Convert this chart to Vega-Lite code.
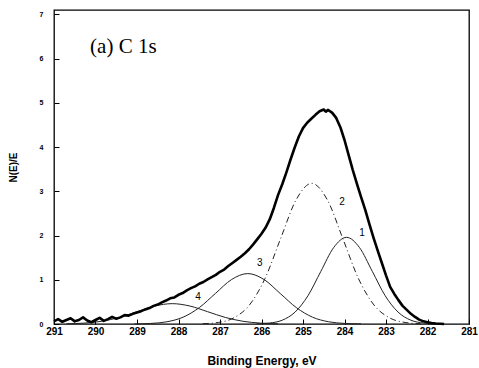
{
  "$schema": "https://vega.github.io/schema/vega-lite/v6.json",
  "width": 415,
  "height": 314,
  "autosize": {"type": "none"},
  "padding": {"left": 54, "top": 10, "right": 10, "bottom": 44},
  "background": "white",
  "config": {
    "view": {"stroke": "black", "strokeWidth": 1.3},
    "axis": {"grid": false, "domain": false, "tickColor": "black", "labelColor": "black", "titleColor": "black"}
  },
  "datasets": {
    "envelope": [
      {"energy": 291.0, "intensity": 0.06}, {"energy": 290.9, "intensity": 0.11}, {"energy": 290.8, "intensity": 0.05},
      {"energy": 290.7, "intensity": 0.09}, {"energy": 290.6, "intensity": 0.13}, {"energy": 290.5, "intensity": 0.06},
      {"energy": 290.4, "intensity": 0.09}, {"energy": 290.3, "intensity": 0.15}, {"energy": 290.2, "intensity": 0.08},
      {"energy": 290.1, "intensity": 0.04}, {"energy": 290.0, "intensity": 0.09}, {"energy": 289.9, "intensity": 0.14},
      {"energy": 289.8, "intensity": 0.07}, {"energy": 289.7, "intensity": 0.11}, {"energy": 289.6, "intensity": 0.16},
      {"energy": 289.5, "intensity": 0.12}, {"energy": 289.4, "intensity": 0.15}, {"energy": 289.3, "intensity": 0.20},
      {"energy": 289.2, "intensity": 0.19}, {"energy": 289.1, "intensity": 0.23}, {"energy": 289.0, "intensity": 0.26},
      {"energy": 288.9, "intensity": 0.29}, {"energy": 288.8, "intensity": 0.33}, {"energy": 288.7, "intensity": 0.36},
      {"energy": 288.6, "intensity": 0.41}, {"energy": 288.5, "intensity": 0.44}, {"energy": 288.4, "intensity": 0.49},
      {"energy": 288.3, "intensity": 0.53}, {"energy": 288.2, "intensity": 0.58}, {"energy": 288.1, "intensity": 0.60},
      {"energy": 288.0, "intensity": 0.66}, {"energy": 287.9, "intensity": 0.70}, {"energy": 287.8, "intensity": 0.76},
      {"energy": 287.7, "intensity": 0.81}, {"energy": 287.6, "intensity": 0.85}, {"energy": 287.5, "intensity": 0.91},
      {"energy": 287.4, "intensity": 0.95}, {"energy": 287.3, "intensity": 1.01}, {"energy": 287.2, "intensity": 1.06},
      {"energy": 287.1, "intensity": 1.11}, {"energy": 287.0, "intensity": 1.18}, {"energy": 286.9, "intensity": 1.23},
      {"energy": 286.8, "intensity": 1.31}, {"energy": 286.7, "intensity": 1.38}, {"energy": 286.6, "intensity": 1.45},
      {"energy": 286.5, "intensity": 1.52}, {"energy": 286.4, "intensity": 1.60}, {"energy": 286.3, "intensity": 1.69},
      {"energy": 286.2, "intensity": 1.80}, {"energy": 286.1, "intensity": 1.92}, {"energy": 286.0, "intensity": 2.04},
      {"energy": 285.9, "intensity": 2.18}, {"energy": 285.8, "intensity": 2.37}, {"energy": 285.7, "intensity": 2.63},
      {"energy": 285.6, "intensity": 2.92}, {"energy": 285.5, "intensity": 3.16}, {"energy": 285.4, "intensity": 3.43},
      {"energy": 285.3, "intensity": 3.72}, {"energy": 285.2, "intensity": 3.99}, {"energy": 285.1, "intensity": 4.24},
      {"energy": 285.0, "intensity": 4.43}, {"energy": 284.9, "intensity": 4.55}, {"energy": 284.8, "intensity": 4.64},
      {"energy": 284.7, "intensity": 4.73}, {"energy": 284.6, "intensity": 4.81}, {"energy": 284.5, "intensity": 4.85},
      {"energy": 284.45, "intensity": 4.80}, {"energy": 284.4, "intensity": 4.84}, {"energy": 284.3, "intensity": 4.78},
      {"energy": 284.2, "intensity": 4.66}, {"energy": 284.1, "intensity": 4.45}, {"energy": 284.0, "intensity": 4.16},
      {"energy": 283.9, "intensity": 3.82}, {"energy": 283.8, "intensity": 3.48}, {"energy": 283.7, "intensity": 3.17},
      {"energy": 283.6, "intensity": 2.87}, {"energy": 283.5, "intensity": 2.58}, {"energy": 283.4, "intensity": 2.26},
      {"energy": 283.3, "intensity": 1.95}, {"energy": 283.2, "intensity": 1.66}, {"energy": 283.1, "intensity": 1.38},
      {"energy": 283.0, "intensity": 1.10}, {"energy": 282.9, "intensity": 0.84}, {"energy": 282.8, "intensity": 0.68},
      {"energy": 282.7, "intensity": 0.54}, {"energy": 282.6, "intensity": 0.41}, {"energy": 282.5, "intensity": 0.32},
      {"energy": 282.4, "intensity": 0.23}, {"energy": 282.3, "intensity": 0.16}, {"energy": 282.2, "intensity": 0.10},
      {"energy": 282.1, "intensity": 0.06}, {"energy": 282.0, "intensity": 0.04}, {"energy": 281.9, "intensity": 0.02},
      {"energy": 281.8, "intensity": 0.01}, {"energy": 281.6, "intensity": 0.0}
    ],
    "c1": [
      {"energy": 286.12, "intensity": 0.004}, {"energy": 285.81, "intensity": 0.022}, {"energy": 285.50, "intensity": 0.086},
      {"energy": 285.19, "intensity": 0.27}, {"energy": 284.88, "intensity": 0.64}, {"energy": 284.57, "intensity": 1.19},
      {"energy": 284.26, "intensity": 1.73}, {"energy": 283.95, "intensity": 1.96}, {"energy": 283.64, "intensity": 1.73},
      {"energy": 283.33, "intensity": 1.19}, {"energy": 283.02, "intensity": 0.64}, {"energy": 282.71, "intensity": 0.27},
      {"energy": 282.40, "intensity": 0.086}, {"energy": 282.09, "intensity": 0.022}, {"energy": 281.78, "intensity": 0.004}
    ],
    "c2": [
      {"energy": 287.415, "intensity": 0.007}, {"energy": 287.04, "intensity": 0.035}, {"energy": 286.665, "intensity": 0.14},
      {"energy": 286.29, "intensity": 0.43}, {"energy": 285.915, "intensity": 1.03}, {"energy": 285.54, "intensity": 1.93},
      {"energy": 285.165, "intensity": 2.81}, {"energy": 284.79, "intensity": 3.18}, {"energy": 284.415, "intensity": 2.81},
      {"energy": 284.04, "intensity": 1.93}, {"energy": 283.665, "intensity": 1.03}, {"energy": 283.29, "intensity": 0.43},
      {"energy": 282.915, "intensity": 0.14}, {"energy": 282.54, "intensity": 0.035}, {"energy": 282.165, "intensity": 0.007}
    ],
    "c3": [
      {"energy": 289.06, "intensity": 0.0025}, {"energy": 288.67, "intensity": 0.013}, {"energy": 288.28, "intensity": 0.05},
      {"energy": 287.89, "intensity": 0.154}, {"energy": 287.50, "intensity": 0.37}, {"energy": 287.11, "intensity": 0.691},
      {"energy": 286.72, "intensity": 1.006}, {"energy": 286.33, "intensity": 1.14}, {"energy": 285.94, "intensity": 1.006},
      {"energy": 285.55, "intensity": 0.691}, {"energy": 285.16, "intensity": 0.37}, {"energy": 284.77, "intensity": 0.154},
      {"energy": 284.38, "intensity": 0.05}, {"energy": 283.99, "intensity": 0.013}, {"energy": 283.60, "intensity": 0.0025}
    ],
    "c4": [
      {"energy": 290.70, "intensity": 0.005}, {"energy": 290.275, "intensity": 0.02}, {"energy": 289.85, "intensity": 0.062},
      {"energy": 289.425, "intensity": 0.149}, {"energy": 289.0, "intensity": 0.279}, {"energy": 288.575, "intensity": 0.406},
      {"energy": 288.15, "intensity": 0.46}, {"energy": 287.725, "intensity": 0.406}, {"energy": 287.30, "intensity": 0.279},
      {"energy": 286.875, "intensity": 0.149}, {"energy": 286.45, "intensity": 0.062}, {"energy": 286.025, "intensity": 0.02},
      {"energy": 285.60, "intensity": 0.005}
    ],
    "labels": [
      {"energy": 283.58, "intensity": 2.06, "name": "1"},
      {"energy": 284.06, "intensity": 2.76, "name": "2"},
      {"energy": 286.04, "intensity": 1.38, "name": "3"},
      {"energy": 287.53, "intensity": 0.61, "name": "4"}
    ]
  },
  "layer": [
    {
      "data": {"name": "c4"},
      "mark": {"type": "line", "interpolate": "monotone", "color": "#222222", "strokeWidth": 1},
      "encoding": {
        "x": {
          "field": "energy", "type": "quantitative",
          "scale": {"domain": [281, 291], "reverse": true, "nice": false, "zero": false},
          "axis": {
            "values": [281, 282, 283, 284, 285, 286, 287, 288, 289, 290, 291],
            "tickSize": -5, "labelPadding": 7, "labelFont": "Liberation Sans", "labelFontWeight": "bold", "labelFontSize": 10,
            "labelFlush": false,
            "title": "Binding Energy, eV", "titleFont": "Liberation Sans", "titleFontWeight": "bold", "titleFontSize": 12, "titlePadding": 19
          }
        },
        "y": {
          "field": "intensity", "type": "quantitative",
          "scale": {"domain": [0, 7.1], "nice": false, "zero": true},
          "axis": {
            "values": [0, 1, 2, 3, 4, 5, 6, 7],
            "tickSize": -5, "labelPadding": 16, "labelFont": "Liberation Sans", "labelFontWeight": "bold", "labelFontSize": 7,
            "labelFlush": false,
            "title": "N(E)/E", "titleFont": "Liberation Sans", "titleFontWeight": "bold", "titleFontSize": 10, "titlePadding": 21
          }
        }
      }
    },
    {
      "data": {"name": "c3"},
      "mark": {"type": "line", "interpolate": "monotone", "color": "#222222", "strokeWidth": 1},
      "encoding": {"x": {"field": "energy", "type": "quantitative"}, "y": {"field": "intensity", "type": "quantitative"}}
    },
    {
      "data": {"name": "c2"},
      "mark": {"type": "line", "interpolate": "monotone", "color": "#222222", "strokeWidth": 1, "strokeDash": [6, 3, 1, 3]},
      "encoding": {"x": {"field": "energy", "type": "quantitative"}, "y": {"field": "intensity", "type": "quantitative"}}
    },
    {
      "data": {"name": "c1"},
      "mark": {"type": "line", "interpolate": "monotone", "color": "#222222", "strokeWidth": 1},
      "encoding": {"x": {"field": "energy", "type": "quantitative"}, "y": {"field": "intensity", "type": "quantitative"}}
    },
    {
      "data": {"name": "envelope"},
      "mark": {"type": "line", "color": "black", "strokeWidth": 2.6, "strokeJoin": "round"},
      "encoding": {"x": {"field": "energy", "type": "quantitative"}, "y": {"field": "intensity", "type": "quantitative"}}
    },
    {
      "data": {"name": "labels"},
      "mark": {"type": "text", "font": "Liberation Sans", "fontSize": 10, "fill": "#000000", "align": "center", "baseline": "middle"},
      "encoding": {"x": {"field": "energy", "type": "quantitative"}, "y": {"field": "intensity", "type": "quantitative"}, "text": {"field": "name"}}
    },
    {
      "data": {"values": [{}]},
      "mark": {"type": "text", "font": "Liberation Serif", "fontSize": 21, "fill": "#000000", "align": "left", "baseline": "alphabetic", "text": "(a) C 1s"},
      "encoding": {"x": {"datum": 290.13, "type": "quantitative"}, "y": {"datum": 6.13, "type": "quantitative"}}
    }
  ]
}
